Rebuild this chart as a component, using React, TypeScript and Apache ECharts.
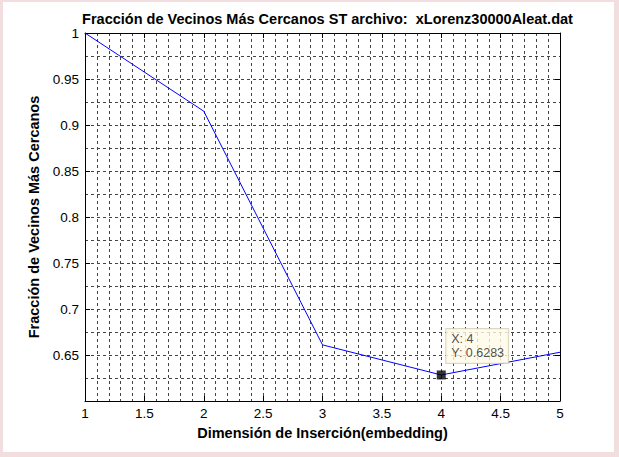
import React, { useEffect, useRef } from "react";
import * as echarts from "echarts";

const xValues = [1, 2, 3, 4, 5];
const yValues = [1, 0.915, 0.661, 0.6283, 0.653];
const tipPoint = [4, 0.6283];
const titleText = "Fracción de Vecinos Más Cercanos ST archivo:  xLorenz30000Aleat.dat";
const xName = "Dimensión de Inserción(embedding)";
const yName = "Fracción de Vecinos Más Cercanos";

const FONT = "'Liberation Sans', Arial, sans-serif";

export default function App() {
  const ref = useRef<HTMLDivElement>(null);
  useEffect(() => {
    if (!ref.current) return;
    const chart = echarts.init(ref.current, null, { renderer: "svg" });
    const gridStyle = { color: "#444", width: 1, type: [3, 3] as any };
    const axisLine = { show: true, onZero: false, lineStyle: { color: "#000", width: 1 } };
    const tick = { show: true, inside: true, length: 5, lineStyle: { color: "#000", width: 1 } };
    const data = xValues.map((x, i) => [x, yValues[i]]);
    chart.setOption({
      animation: false,
      backgroundColor: "#ffffff",
      title: {
        text: titleText,
        left: 319.5,
        top: 4,
        textAlign: "center",
        textStyle: { fontFamily: FONT, fontSize: 14.5, fontWeight: "bold", color: "#000" },
      },
      grid: { left: 82, top: 31, width: 475, height: 368, containLabel: false },
      xAxis: [
        {
          type: "value",
          min: 1,
          max: 5,
          interval: 0.5,
          axisLine,
          axisTick: tick,
          axisLabel: { fontFamily: FONT, fontSize: 13.5, color: "#000", margin: 5 },
          splitLine: { show: true, lineStyle: gridStyle },
          minorTick: { show: false, splitNumber: 5 },
          minorSplitLine: { show: true, lineStyle: gridStyle },
          name: xName,
          nameLocation: "middle",
          nameGap: 24,
          nameTextStyle: { fontFamily: FONT, fontSize: 14.5, fontWeight: "bold", color: "#000" },
        },
        {
          type: "value",
          position: "top",
          min: 1,
          max: 5,
          interval: 0.5,
          axisLine,
          axisTick: tick,
          axisLabel: { show: false },
          splitLine: { show: false },
        },
      ],
      yAxis: [
        {
          type: "value",
          min: 0.6,
          max: 1,
          interval: 0.05,
          axisLine,
          axisTick: tick,
          axisLabel: {
            fontFamily: FONT,
            fontSize: 13.5,
            color: "#000",
            margin: 6,
            formatter: (v: number) => (Math.abs(v - 0.6) < 1e-9 ? "" : String(+v.toFixed(2))),
          },
          splitLine: { show: true, lineStyle: gridStyle },
          minorTick: { show: false, splitNumber: 2 },
          minorSplitLine: { show: true, lineStyle: gridStyle },
          name: yName,
          nameLocation: "middle",
          nameGap: 37,
          nameTextStyle: { fontFamily: FONT, fontSize: 14.5, fontWeight: "bold", color: "#000" },
        },
        {
          type: "value",
          position: "right",
          min: 0.6,
          max: 1,
          interval: 0.05,
          axisLine,
          axisTick: tick,
          axisLabel: { show: false },
          splitLine: { show: false },
        },
      ],
      series: [
        {
          type: "line",
          data,
          symbol: "none",
          lineStyle: { color: "#0000ff", width: 1 },
          itemStyle: { color: "#0000ff" },
          z: 3,
        },
        {
          type: "scatter",
          data: [tipPoint],
          symbol: "rect",
          symbolSize: 9,
          itemStyle: { color: "#000" },
          z: 5,
          label: {
            show: true,
            position: [9.5, -41.5],
            align: "left",
            verticalAlign: "top",
            formatter: () => `X: ${tipPoint[0]}\nY: ${tipPoint[1]}`,
            fontFamily: FONT,
            fontSize: 12.5,
            lineHeight: 14,
            color: "#222",
            backgroundColor: "#fffbe8",
            borderColor: "#d4ccb4",
            borderWidth: 1,
            padding: [3, 4, 3, 5],
          },
        },
      ],
    });
    return () => chart.dispose();
  }, []);
  return (
    <div style={{ position: "fixed", left: 0, top: 0, width: 619, height: 457, background: "#f2dede" }}>
      <div
        ref={ref}
        style={{ position: "absolute", left: 3, top: 2, width: 611, height: 450, background: "#fff" }}
      />
    </div>
  );
}
